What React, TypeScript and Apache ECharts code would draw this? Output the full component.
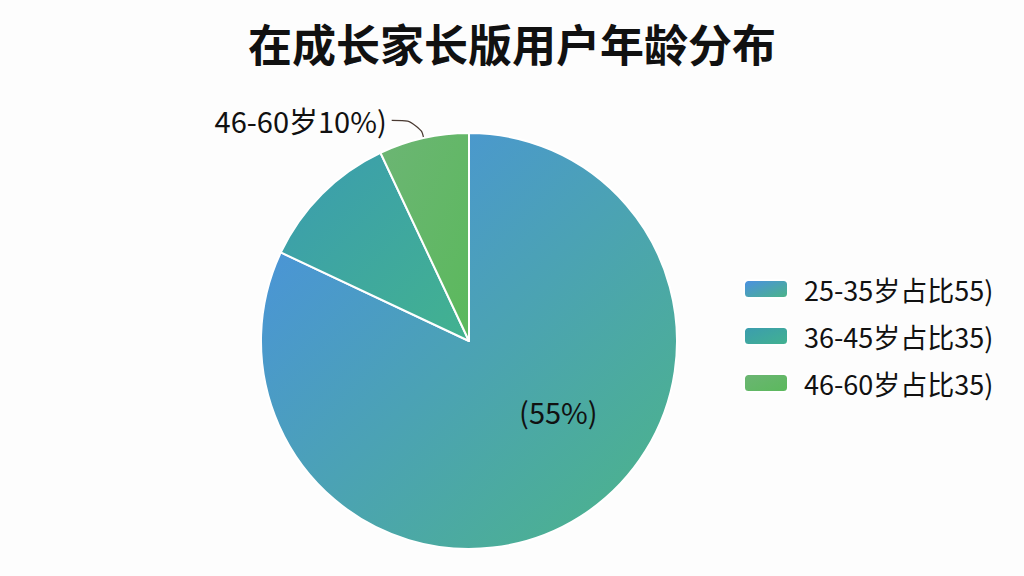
import React, { useEffect, useRef } from "react";
import * as echarts from "echarts";

const titleText = "在成长家长版用户年龄分布";
const legendNames = ["25-35岁占比55)", "36-45岁占比35)", "46-60岁占比35)"];
const sliceValues = [82, 11, 7];
const sliceLabels = ["(55%)", "", "46-60岁10%)"];
const gradientStops = [
  ["#4a8fe4", "#4cb586"],
  ["#3b9cb0", "#42b28f"],
  ["#6cb574", "#5bb95c"],
];

const FONT = "'Noto Sans CJK SC', 'Noto Sans', sans-serif";

export default function App() {
  const ref = useRef<HTMLDivElement>(null);
  useEffect(() => {
    document.body.style.margin = "0";
    const chart = echarts.init(ref.current!, null, { renderer: "svg" });
    const data = sliceValues.map((v, i) => {
      const isInside = i === 0;
      const hasLabel = sliceLabels[i] !== "";
      return {
        name: legendNames[i],
        value: v,
        itemStyle: {
          color: new echarts.graphic.LinearGradient(0, 0, 1, 1, [
            { offset: 0, color: gradientStops[i][0] },
            { offset: 1, color: gradientStops[i][1] },
          ]),
        },
        label: {
          show: hasLabel,
          position: isInside ? "inside" : "outside",
          formatter: sliceLabels[i],
          fontSize: isInside ? 29 : 29,
          offset: isInside ? [32, -20] : [0, 0],
        },
        labelLine: { show: hasLabel && !isInside },
      };
    });
    chart.setOption({
      animation: false,
      backgroundColor: "#fdfdfd",
      title: {
        text: titleText,
        left: "center",
        top: 16,
        textStyle: { fontSize: 44, fontWeight: "bold", color: "#111", fontFamily: FONT },
      },
      legend: {
        orient: "vertical",
        left: 738,
        top: 269,
        icon: "roundRect",
        itemWidth: 44,
        itemHeight: 18,
        itemGap: 17,
        textStyle: {
          fontSize: 27,
          color: "#111",
          fontFamily: FONT,
          lineHeight: 30,
          padding: [0, 0, 0, 11],
        },
        data: legendNames,
      },
      series: [
        {
          type: "pie",
          center: [469, 341],
          radius: 208,
          startAngle: 90,
          clockwise: true,
          avoidLabelOverlap: false,
          itemStyle: { borderColor: "#fff", borderWidth: 2 },
          label: {
            color: "#111",
            fontFamily: FONT,
          },
          labelLine: {
            length: 18,
            length2: 28,
            smooth: 0.6,
            lineStyle: { color: "#4a3a32", width: 1.2 },
          },
          emphasis: { disabled: true },
          data,
        },
      ],
    });
    return () => chart.dispose();
  }, []);
  return <div ref={ref} style={{ width: 1024, height: 576 }} />;
}
